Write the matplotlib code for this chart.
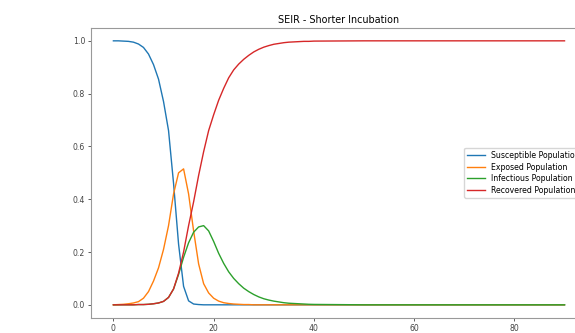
import numpy as np
import matplotlib
matplotlib.use('Agg')
import matplotlib.pyplot as plt

# Days sampled (daily up to 40, then the curves are flat)
days = list(range(0, 41)) + [50, 60, 70, 80, 90]

susceptible = [1.0, 1.0, 0.999, 0.998, 0.995, 0.988, 0.975, 0.95, 0.91, 0.855,
               0.77, 0.66, 0.46, 0.23, 0.07, 0.015, 0.003, 0.001, 0.0, 0.0,
               0.0, 0.0, 0.0, 0.0, 0.0, 0.0, 0.0, 0.0, 0.0, 0.0,
               0.0, 0.0, 0.0, 0.0, 0.0, 0.0, 0.0, 0.0, 0.0, 0.0,
               0.0, 0.0, 0.0, 0.0, 0.0, 0.0]
exposed = [0.0, 0.001, 0.002, 0.004, 0.007, 0.012, 0.025, 0.05, 0.09, 0.14,
           0.21, 0.30, 0.42, 0.50, 0.515, 0.42, 0.28, 0.155, 0.08, 0.045,
           0.025, 0.014, 0.008, 0.005, 0.003, 0.002, 0.001, 0.001, 0.0, 0.0,
           0.0, 0.0, 0.0, 0.0, 0.0, 0.0, 0.0, 0.0, 0.0, 0.0,
           0.0, 0.0, 0.0, 0.0, 0.0, 0.0]
infectious = [0.0, 0.0, 0.0, 0.0, 0.0, 0.001, 0.001, 0.002, 0.004, 0.007,
              0.013, 0.028, 0.06, 0.115, 0.18, 0.235, 0.275, 0.295, 0.30, 0.28,
              0.24, 0.195, 0.157, 0.125, 0.10, 0.08, 0.063, 0.05, 0.039, 0.03,
              0.023, 0.018, 0.014, 0.011, 0.008, 0.006, 0.005, 0.004, 0.003, 0.002,
              0.0015, 0.0, 0.0, 0.0, 0.0, 0.0]
recovered = [0.0, 0.0, 0.0, 0.0, 0.0, 0.001, 0.001, 0.002, 0.004, 0.007,
             0.013, 0.028, 0.06, 0.12, 0.20, 0.30, 0.39, 0.49, 0.58, 0.66,
             0.72, 0.775, 0.82, 0.86, 0.89, 0.912, 0.93, 0.945, 0.958, 0.968,
             0.976, 0.982, 0.987, 0.99, 0.993, 0.995, 0.996, 0.997, 0.998, 0.998,
             0.999, 1.0, 1.0, 1.0, 1.0, 1.0]

labels = ['Susceptible Population', 'Exposed Population',
          'Infectious Population', 'Recovered Population']

fig = plt.figure(figsize=(5.75, 3.33), dpi=100)
# axes run past the right edge, the reference is cropped there
ax = fig.add_axes([0.158, 0.045, 0.863, 0.872])

for series, lab in zip([susceptible, exposed, infectious, recovered], labels):
    ax.plot(days, series, label=lab, lw=1.0)

ax.set_title('SEIR - Shorter Incubation', fontsize=6.9, pad=3)
ax.set_xticks([0, 20, 40, 60, 80])
ax.set_yticks([0.0, 0.2, 0.4, 0.6, 0.8, 1.0])
ax.tick_params(labelsize=5.6, length=2.2, width=0.6, pad=2, colors='#444')
for s in ax.spines.values():
    s.set_color('#999')
    s.set_linewidth(0.8)
ax.spines['right'].set_visible(False)

ax.legend(loc='center right', fontsize=5.6, handlelength=2.3,
          labelspacing=0.33)

fig.savefig('out.png', dpi=100)
